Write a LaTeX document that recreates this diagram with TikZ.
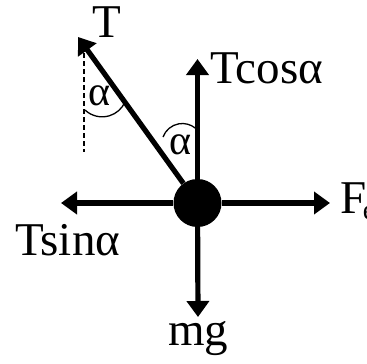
\documentclass[tikz,border=0pt]{standalone}
\usepackage{fontspec}
\setmainfont{Liberation Serif}
\usetikzlibrary{arrows.meta}
\begin{document}
\begin{tikzpicture}[x=1pt,y=1pt,
  force/.style={line width=5.2pt,-{Triangle[length=16pt,width=22pt]}},
  thin/.style={line width=1.3pt},
  lbl/.style={inner sep=0pt,anchor=base west,font=\fontsize{47}{50}\selectfont},
  anglbl/.style={inner sep=0pt,font=\fontsize{42}{44}\selectfont}]
\clip (0,0) rectangle (367,-364);
\fill[white] (0,0) rectangle (367,-364);
% named points
\coordinate (tipT) at (78,-37);
\coordinate (tipU) at (197.5,-59);
\coordinate (tipL) at (61,-203);
\coordinate (tipR) at (330,-203);
\coordinate (tipD) at (198,-317);
\coordinate (dashA) at (84,-53);
\coordinate (dashB) at (84,-152);
\coordinate (arcA) at (85,-110);
\coordinate (arcB) at (163,-137);
% ball
\node[circle,fill=black,minimum size=48pt,inner sep=0pt] (ball) at (197.5,-203) {};
% forces
\draw[force] (ball) -- (tipT);
\draw[force] (ball) -- (tipU);
\draw[force] (ball) -- (tipL);
\draw[force] (ball) -- (tipR);
\draw[force] (ball) -- (tipD);
% dashed vertical and angle arcs
\draw[thin,dash pattern=on 5pt off 3pt] (dashA) -- (dashB);
\draw[thin] (arcA) arc[start angle=226.6,end angle=336.5,radius=25];
\draw[thin] (arcB) arc[start angle=159.8,end angle=50.9,radius=20.6];
% labels
\node[lbl] (lT) at (92,-37) {T};
\node[lbl] (lTc) at (210,-83) {Tcosα};
\node[lbl] (lTs) at (15,-255) {Tsinα};
\node[lbl] (lmg) at (168,-345) {mg};
\node[lbl] (lF) at (340,-213) {F\kern-3.5pt\raisebox{-6pt}{\fontsize{28}{30}\selectfont e}};
\node[anglbl] (a1) at (100,-96) {α};
\node[anglbl] (a2) at (181,-145) {α};
\end{tikzpicture}
\end{document}
